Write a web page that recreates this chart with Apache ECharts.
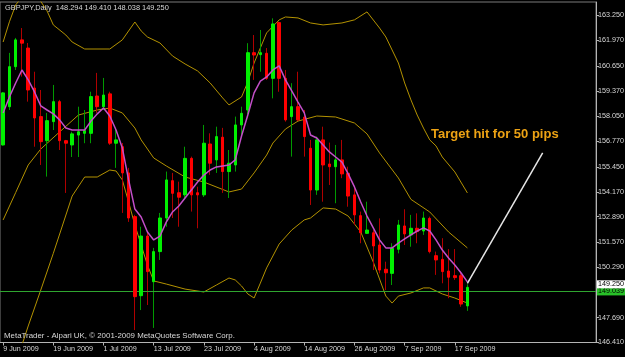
<!DOCTYPE html>
<html><head><meta charset="utf-8">
<script src="https://cdn.jsdelivr.net/npm/echarts@6/dist/echarts.min.js"></script>
<style>html,body{margin:0;padding:0;background:#000;}#c{width:625px;height:357px;}</style>
</head><body><div id="c"></div>
<script>
const categories = ['9 Jun 2009','10 Jun 2009','11 Jun 2009','12 Jun 2009','15 Jun 2009','16 Jun 2009','17 Jun 2009','18 Jun 2009','19 Jun 2009','22 Jun 2009','23 Jun 2009','24 Jun 2009','25 Jun 2009','26 Jun 2009','29 Jun 2009','30 Jun 2009',
'1 Jul 2009','2 Jul 2009','3 Jul 2009','6 Jul 2009','7 Jul 2009','8 Jul 2009','9 Jul 2009','10 Jul 2009','13 Jul 2009','14 Jul 2009','15 Jul 2009','16 Jul 2009','17 Jul 2009','20 Jul 2009','21 Jul 2009','22 Jul 2009','23 Jul 2009','24 Jul 2009','27 Jul 2009','28 Jul 2009','29 Jul 2009','30 Jul 2009','31 Jul 2009',
'3 Aug 2009','4 Aug 2009','5 Aug 2009','6 Aug 2009','7 Aug 2009','10 Aug 2009','11 Aug 2009','12 Aug 2009','13 Aug 2009','14 Aug 2009','17 Aug 2009','18 Aug 2009','19 Aug 2009','20 Aug 2009','21 Aug 2009','24 Aug 2009','25 Aug 2009','26 Aug 2009','27 Aug 2009','28 Aug 2009','31 Aug 2009',
'1 Sep 2009','2 Sep 2009','3 Sep 2009','4 Sep 2009','7 Sep 2009','8 Sep 2009','9 Sep 2009','10 Sep 2009','11 Sep 2009','14 Sep 2009','15 Sep 2009','16 Sep 2009','17 Sep 2009','18 Sep 2009','21 Sep 2009'];

const open  = [156.58,158.55,160.61,161.99,161.57,159.51,158.04,156.80,157.78,158.81,156.80,156.58,157.09,157.18,157.18,159.10,158.55,159.21,156.67,156.49,155.14,152.89,148.82,151.89,149.54,151.09,152.82,154.74,154.12,154.01,155.89,154.12,154.01,156.63,155.81,156.98,155.21,155.55,157.61,158.38,161.33,161.23,161.30,160.01,162.88,160.01,158.04,158.55,158.01,156.41,154.26,156.84,155.60,155.46,155.81,155.12,154.01,152.94,152.03,152.06,151.43,150.18,149.97,151.21,152.41,151.95,152.29,152.15,152.80,150.88,150.69,150.09,149.85,149.85,148.294];
const close = [159.26,160.61,161.99,161.82,159.41,157.97,156.75,157.83,158.81,156.80,156.67,157.15,157.26,157.32,159.07,158.55,159.15,156.67,156.84,155.14,152.82,148.77,151.89,150.06,151.09,152.82,154.78,154.09,153.89,155.89,154.01,154.01,156.67,155.64,157.01,155.21,155.64,157.61,158.21,161.33,161.21,161.33,160.01,162.81,160.01,157.87,158.55,157.87,157.01,154.26,156.84,155.55,155.46,155.81,155.09,153.95,152.98,152.06,152.20,151.38,150.14,150.00,151.26,152.46,152.00,152.29,152.12,152.82,151.09,150.66,150.06,149.77,149.75,148.39,149.250];
const low   = [156.55,158.38,160.44,160.10,158.81,156.49,155.55,154.95,157.35,156.32,154.11,155.96,155.96,156.67,156.67,158.23,158.38,156.58,155.40,153.08,152.62,147.05,148.08,148.34,147.16,150.66,152.37,152.82,152.37,153.85,153.15,152.29,153.90,155.04,155.14,154.11,153.85,155.21,157.01,158.04,159.93,160.35,159.93,158.98,159.32,157.78,155.98,157.82,155.98,153.49,154.01,153.66,154.52,153.58,154.87,153.40,152.46,151.52,152.00,150.14,149.97,149.11,149.37,151.00,151.43,151.34,151.52,151.95,151.00,149.89,149.46,148.69,149.63,148.25,148.038];
const high  = [159.30,161.32,162.09,162.60,161.83,160.35,159.41,158.23,159.67,158.90,156.84,157.26,158.55,158.38,159.32,160.29,160.03,159.32,157.46,156.68,155.40,152.98,152.37,152.10,151.28,153.08,155.21,155.14,154.69,156.49,155.98,154.43,157.61,157.18,157.52,157.46,156.32,158.04,158.55,161.82,162.24,162.50,161.57,163.10,162.93,160.44,159.76,160.35,158.38,156.84,157.01,157.52,156.70,156.58,156.84,155.46,154.35,153.15,153.66,152.20,152.80,150.57,151.52,152.72,153.27,152.98,153.06,153.15,152.89,151.09,151.78,151.22,151.22,150.09,149.410];

const maLine = [158.23,159.05,159.77,160.44,159.93,159.31,158.59,158.38,158.18,157.87,157.45,157.35,157.35,157.35,157.81,158.18,158.48,158.07,157.35,156.42,154.78,153.28,152.87,152.10,151.69,151.89,152.61,153.13,153.44,153.85,154.26,154.67,155.03,155.29,155.45,155.50,155.55,155.81,157.04,158.12,159.26,159.87,160.08,160.44,160.65,159.93,159.36,158.79,158.23,157.09,156.94,156.58,156.22,155.96,155.70,155.09,154.42,153.64,152.92,152.31,151.69,151.28,151.28,151.53,151.74,151.95,152.15,152.31,152.15,151.69,151.17,150.76,150.40,149.99,149.53];

const bandUpper = [[0,161.88],[1,162.92],[2,163.79],[3,164.20],[5,164.46],[7,163.48],[8,162.76],[10,162.24],[11,161.88],[13,161.52],[17,161.52],[19,161.99],[21,162.91],[22,162.45],[23,162.14],[25,161.83],[27,161.16],[29,160.75],[31,160.39],[33,159.77],[35,159.00],[36,158.64],[38,159.05],[39,159.82],[40,160.80],[42,162.35],[44,163.02],[45,163.17],[47,163.12],[49,162.86],[51,162.76],[54,162.86],[56,163.02],[58,163.43],[60,162.60],[61,162.14],[63,160.80],[64,159.77],[65,158.90],[66,158.12],[67,157.45],[68,156.84],[69,156.53],[70,155.96],[72,155.19],[74,154.11]];
const bandMiddle = [[0,152.72],[2,154.13],[4,155.55],[6,156.37],[9,157.25],[12,158.12],[15,158.38],[17,158.48],[19,158.23],[21,157.45],[22,156.84],[24,155.91],[26,155.50],[29,154.93],[32,154.67],[36,154.16],[38,154.31],[40,155.14],[42,156.06],[43,156.68],[45,157.40],[47,157.81],[50,158.07],[53,158.02],[56,157.71],[58,157.15],[60,156.17],[63,154.88],[65,153.78],[68,153.13],[71,152.10],[74,151.28]];
const bandLower = [[2,145.09],[3,146.28],[4,147.26],[6,149.11],[8,151.00],[11,153.95],[13,154.93],[15,154.93],[17,155.29],[18,155.24],[19,154.78],[20,153.64],[21,152.46],[22,151.43],[23,150.40],[24,149.58],[26,149.42],[29,149.16],[32,149.01],[34,149.37],[36,149.73],[37,149.63],[38,149.32],[39,148.91],[40,148.70],[41,149.47],[42,150.25],[44,151.48],[46,152.20],[48,152.72],[49,152.82],[51,153.34],[53,153.28],[55,152.92],[57,152.10],[59,150.55],[61,148.80],[62,148.44],[63,148.80],[65,148.96],[67,149.22],[68,149.22],[70,148.91],[72,148.70],[74,148.44]];

const targetLine = [[74.2,149.46],[86,156.17]];
const yTicks = [146.41,147.69,150.29,151.57,152.89,154.17,155.45,156.77,158.05,159.37,160.65,161.97,163.25];
const levelLine = 149.039;
const lastPrice = 149.250;
const symbolName = 'GBPJPY,Daily';
const noteText = 'Target hit for 50 pips';
const footerText = 'MetaTrader - Alpari UK, \u00a9 2001-2009 MetaQuotes Software Corp.';

const FONT = "'Liberation Sans', Arial, sans-serif";
const N = categories.length;
const xCats = categories.concat(new Array(20).fill(''));
const showIdx = (i) => i % 8 === 0 && i < N;
const wicks = open.map((o, i) => [o, close[i], low[i], high[i]]);
const bodies = open.map((o, i) => [o, close[i], Math.min(o, close[i]), Math.max(o, close[i])]);
const last = N - 1;
const header = symbolName + '  ' + [open[last], high[last], low[last], close[last]].map(v => v.toFixed(3)).join(' ');

const chart = echarts.init(document.getElementById('c'), null, {renderer: 'canvas'});
chart.setOption({
  animation: false,
  backgroundColor: '#000',
  title: [
    {text: header, left: 5, top: 4, padding: 0, textStyle: {color: '#d8d8d8', fontSize: 7.4, fontWeight: 'normal', fontFamily: FONT}},
    {text: footerText, left: 4, top: 332, padding: 0, textStyle: {color: '#d8d8d8', fontSize: 7.9, fontWeight: 'normal', fontFamily: FONT}}
  ],
  grid: {left: 0, right: 29, top: 2, bottom: 14.5, containLabel: false, outerBoundsMode: 'none', show: true, borderColor: '#7a7a7a', borderWidth: 1, backgroundColor: '#000'},
  xAxis: {
    type: 'category', data: xCats, boundaryGap: true,
    axisLine: {lineStyle: {color: '#b4b4b4'}},
    axisTick: {show: true, alignWithLabel: true, interval: showIdx, length: 3, lineStyle: {color: '#b4b4b4'}},
    axisLabel: {interval: showIdx, color: '#d8d8d8', fontSize: 7.2, align: 'left', margin: 3, fontFamily: FONT, hideOverlap: false},
    splitLine: {show: false}
  },
  yAxis: {
    type: 'value', position: 'right', min: 146.41, max: 163.94, scale: true,
    axisLine: {show: true, lineStyle: {color: '#b4b4b4'}},
    axisTick: {show: true, customValues: yTicks, length: 3, lineStyle: {color: '#b4b4b4'}},
    axisLabel: {customValues: yTicks, formatter: v => v.toFixed(3), color: '#d8d8d8', fontSize: 7.2, margin: 2, fontFamily: FONT, hideOverlap: false},
    splitLine: {show: false}
  },
  series: [
    {type: 'line', data: bandUpper, showSymbol: false, clip: true, lineStyle: {color: '#b39200', width: 1}, z: 3},
    {type: 'line', data: bandMiddle, showSymbol: false, clip: true, lineStyle: {color: '#b39200', width: 1}, z: 3},
    {type: 'line', data: bandLower, showSymbol: false, clip: true, lineStyle: {color: '#b39200', width: 1}, z: 3},
    {type: 'candlestick', data: wicks, barWidth: 1, z: 4,
      itemStyle: {color: '#009a00', color0: '#b00000', borderColor: '#009a00', borderColor0: '#b00000', borderWidth: 1}},
    {type: 'candlestick', data: bodies, barWidth: 3, z: 5,
      itemStyle: {color: '#00f000', color0: '#ff0000', borderColor: '#00f000', borderColor0: '#ff0000', borderWidth: 1}},
    {type: 'line', data: maLine, showSymbol: false, lineStyle: {color: '#c24fc8', width: 1.5}, z: 6},
    {type: 'line', data: targetLine, showSymbol: false, clip: false, lineStyle: {color: '#e6e6e6', width: 1.5}, z: 7},
    {type: 'line', data: [], z: 8,
      markLine: {symbol: 'none', silent: true, animation: false,
        data: [
          {yAxis: levelLine, lineStyle: {color: '#2fa52f', width: 1, type: 'solid'},
            label: {show: true, position: 'end', distance: 1, formatter: levelLine.toFixed(3), backgroundColor: '#28c028', color: '#000', fontSize: 7.2, padding: [1, 1, 0, 1], lineHeight: 7, fontFamily: FONT}},
          {yAxis: lastPrice, lineStyle: {color: 'rgba(0,0,0,0)', width: 1},
            label: {show: true, position: 'end', distance: 1, offset: [0, -3], formatter: lastPrice.toFixed(3), backgroundColor: '#ffffff', color: '#000', fontSize: 7.2, padding: [1, 1, 0, 1], lineHeight: 7, fontFamily: FONT}}
        ]}}
  ],
  graphic: [
    {type: 'text', left: 431, top: 128, z: 10, style: {text: noteText, fill: '#eca214', font: "bold 13px 'Liberation Sans', Arial, sans-serif"}}
  ]
});
</script>
</body></html>
